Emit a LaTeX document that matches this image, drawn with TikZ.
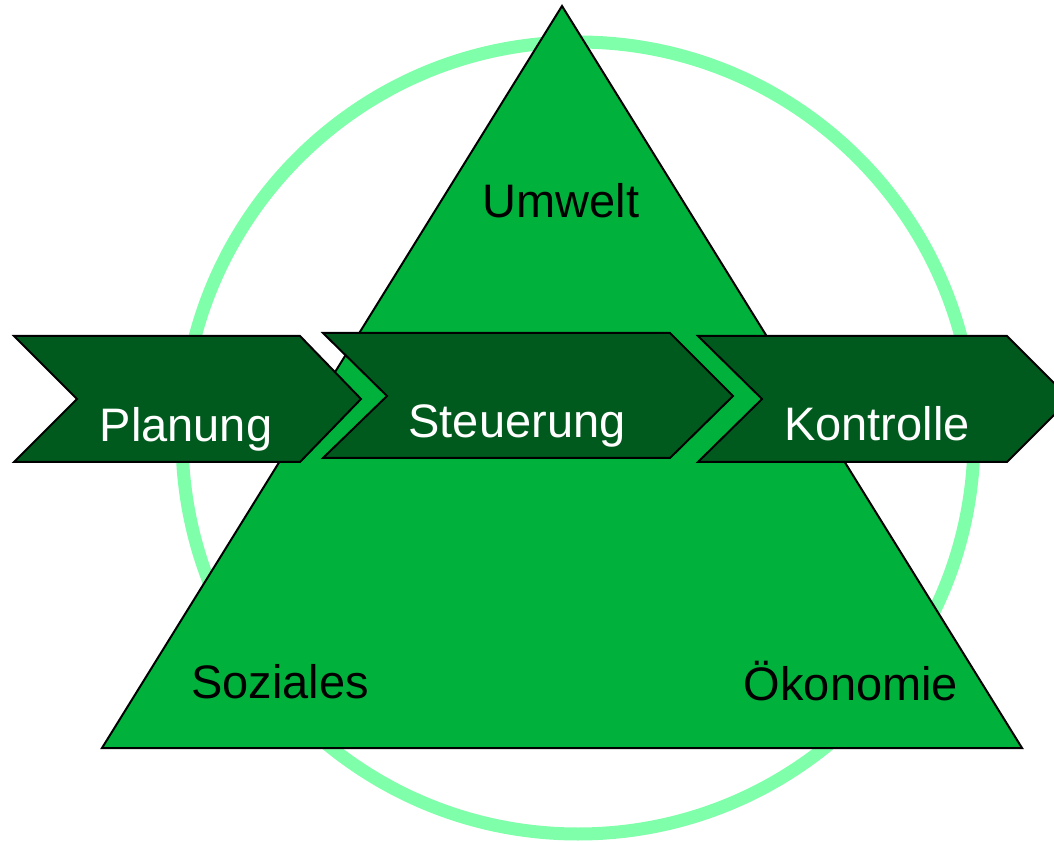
\documentclass[tikz,border=0pt]{standalone}
\usepackage{fontspec}
\setmainfont{Liberation Sans}
\definecolor{ringgreen}{RGB}{128,255,170}
\definecolor{trigreen}{RGB}{0,178,60}
\definecolor{chevgreen}{RGB}{0,90,30}
\tikzset{
  lbl/.style={anchor=base,inner sep=0pt,font=\fontsize{47}{56}\selectfont},
  chev/.style={fill=chevgreen,draw=black,line width=2pt,line join=miter},
}
\begin{document}
\begin{tikzpicture}[x=1pt,y=1pt]
\useasboundingbox (0,0) rectangle (1054,841);
\clip (0,0) rectangle (1054,841);
% ring
\draw[ringgreen,line width=13pt] (578,403) circle[radius=396];
% triangle
\draw[fill=trigreen,draw=black,line width=2pt,line join=miter]
  (562,835) -- (1022,93) -- (102,93) -- cycle;
% chevrons
\draw[chev] (14,505) -- (300,505) -- (361,442) -- (300,379) -- (14,379) -- (77,442) -- cycle;
\draw[chev] (323,508) -- (670,508) -- (733,445) -- (670,383) -- (323,383) -- (387,445) -- cycle;
\draw[chev] (698,505) -- (1007,505) -- (1070,442) -- (1007,379) -- (698,379) -- (762,442) -- cycle;
% labels
\node[lbl,text=white] (planung) at (186,399) {Planung};
\node[lbl,text=white] (steuerung) at (517,403) {Steuerung};
\node[lbl,text=white] (kontrolle) at (877,400) {Kontrolle};
\node[lbl] (umwelt) at (561,623) {Umwelt};
\node[lbl] (soziales) at (280,143) {Soziales};
\node[lbl] (oekonomie) at (851,141) {Ökonomie};
\end{tikzpicture}
\end{document}
